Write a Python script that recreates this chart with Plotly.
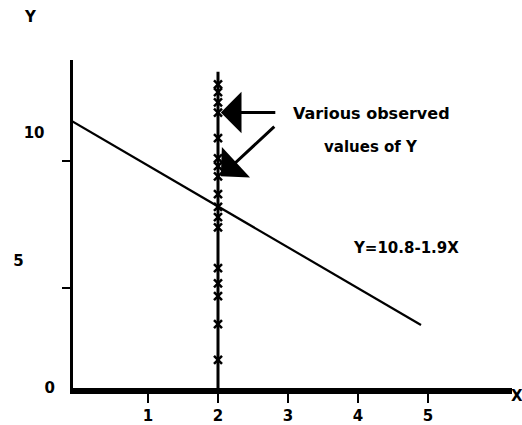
import plotly.graph_objects as go

# ---- data ----
obs_x = [2] * 17
obs_y = [11.9, 11.6, 11.2, 10.8, 9.8, 9.0, 8.7, 8.3, 7.6, 7.1, 6.7, 6.3, 4.7, 4.1, 3.6, 2.5, 1.1]
vline_x = [2, 2]
vline_y = [0, 12.4]
fit_x = [-0.09, 4.9]
fit_y = [10.47, 2.47]
xtick_vals = [1, 2, 3, 4, 5]
xtick_text = ["1", "2", "3", "4", "5"]
ytick_vals = [0, 5, 10]
ytick_text = ["0", "5" + "\u00a0" * 6, "10" + "\u00a0" * 2]
ymark_vals = [3.92, 8.9]
equation = "Y=10.8-1.9X"
note_lines = ["Various observed", "values of Y"]
arrow_targets_y = [10.8, 8.3]

FONT = "DejaVu Sans"

fig = go.Figure()
fig.add_trace(go.Scatter(x=vline_x, y=vline_y, mode="lines",
                         line=dict(color="black", width=3), showlegend=False))
fig.add_trace(go.Scatter(x=fit_x, y=fit_y, mode="lines",
                         line=dict(color="black", width=2.2), showlegend=False))
fig.add_trace(go.Scatter(x=obs_x, y=obs_y, mode="markers",
                         marker=dict(symbol="x-thin", size=8,
                                     line=dict(color="black", width=2.5)),
                         showlegend=False))

# text labels
fig.add_annotation(x=4.19, y=10.78, text="<b>%s</b>" % note_lines[0], showarrow=False,
                   font=dict(family=FONT, size=16, color="black"))
fig.add_annotation(x=4.19, y=9.45, text="<b>%s</b>" % note_lines[1], showarrow=False,
                   font=dict(family=FONT, size=15, color="black"))
fig.add_annotation(x=4.69, y=5.49, text="<b>%s</b>" % equation, showarrow=False,
                   font=dict(family=FONT, size=15, color="black"))

# arrows pointing at observed values
for ty, (axp, ayp) in zip(arrow_targets_y, [(56, 0), (55, -51)]):
    fig.add_annotation(x=2.04, y=ty, text="", showarrow=True, ax=axp, ay=ayp,
                       arrowhead=1, arrowsize=2.3, arrowwidth=3, arrowcolor="black")

# axis titles
fig.add_annotation(x=-0.0957, y=1.131, xref="paper", yref="paper", text="<b>Y</b>",
                   xanchor="center", yanchor="middle",
                   showarrow=False, font=dict(family=FONT, size=15, color="black"))
fig.add_annotation(x=1.011, y=-0.024, xref="paper", yref="paper", text="<b>X</b>",
                   xanchor="center", yanchor="middle",
                   showarrow=False, font=dict(family=FONT, size=15, color="black"))

fig.update_layout(
    width=522, height=425,
    margin=dict(l=73, r=10, t=60, b=37),
    paper_bgcolor="white", plot_bgcolor="white",
    font=dict(family=FONT, size=15, color="black", weight="bold"),
    xaxis=dict(range=[-0.0714, 6.2], showgrid=False, zeroline=False,
               automargin=False,
               showline=True, linecolor="black", linewidth=6,
               tickvals=xtick_vals, ticktext=xtick_text,
               ticks="outside", ticklen=9, tickwidth=2, tickcolor="black",
               tickfont=dict(family=FONT, size=15, color="black", weight="bold")),
    yaxis=dict(range=[0, 12.86], showgrid=False, zeroline=False,
               automargin=False,
               showline=True, linecolor="black", linewidth=3,
               tickvals=ytick_vals, ticktext=ytick_text, ticks="",
               ticklabelstandoff=12,
               minor=dict(tickvals=ymark_vals, ticks="outside", ticklen=8,
                          tickwidth=2, tickcolor="black"),
               tickfont=dict(family=FONT, size=15, color="black", weight="bold")),
)

fig.write_html("out.html")
